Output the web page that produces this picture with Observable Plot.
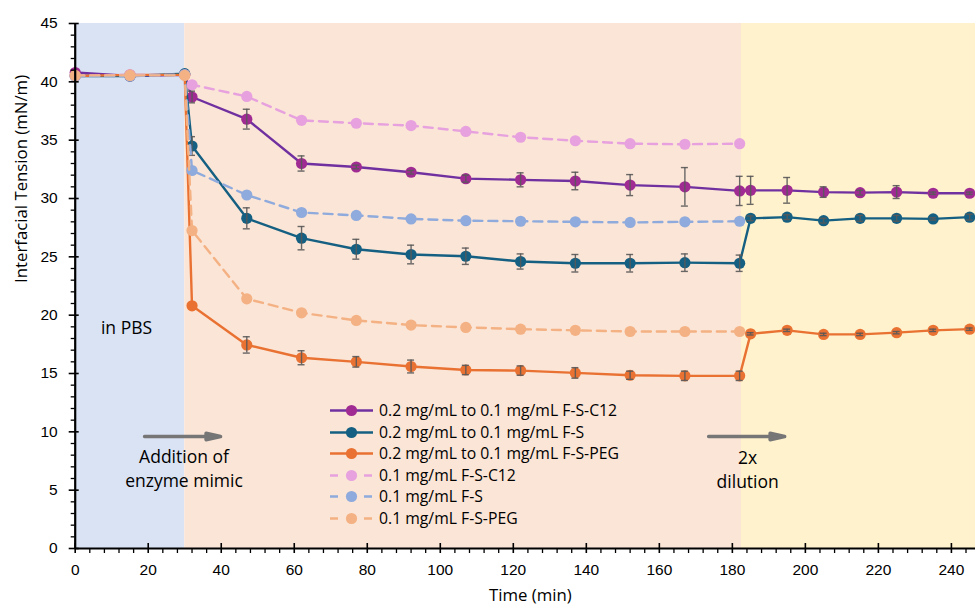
<!DOCTYPE html>
<html><head><meta charset="utf-8">
<script src="https://cdn.jsdelivr.net/npm/d3@7"></script>
<script src="https://cdn.jsdelivr.net/npm/@observablehq/plot@0.6"></script>
<style>
body{margin:0;background:#fff;}
#wrap{position:relative;width:975px;height:610px;}
#legend{position:absolute;left:330px;top:400px;font-family:"Open Sans",sans-serif;font-size:15.75px;color:#000;line-height:21.5px;}
.row{display:flex;align-items:center;height:21.5px;white-space:nowrap;}
.row svg{margin-right:6px;flex:none;}
</style></head><body><div id="wrap"><div id="chart"></div><div id="legend"></div></div>
<script>
// Time points (min)
const timeFull = [0,15,30,32,47,62,77,92,107,122,137,152,167,182,185,195,205,215,225,235,245];
const timeShort = [0,15,30,32,47,62,77,92,107,122,137,152,167,182];

// 0.2 mg/mL -> 0.1 mg/mL series (mean, error)
const c12Solid    = [40.8,40.5,40.6,38.7,36.8,33.0,32.7,32.25,31.7,31.6,31.5,31.15,31.0,30.65,30.7,30.7,30.55,30.5,30.55,30.45,30.45];
const c12SolidErr = [0,0,0,0.5,0.85,0.65,0.15,0.15,0.3,0.6,0.75,0.9,1.65,1.25,1.2,1.1,0.45,0.2,0.55,0.1,0.1];
const fsSolid     = [40.5,40.5,40.7,34.5,28.3,26.6,25.65,25.2,25.05,24.6,24.45,24.45,24.5,24.45,28.3,28.4,28.1,28.3,28.3,28.25,28.4];
const fsSolidErr  = [0,0,0,0.8,0.9,1.0,0.85,0.8,0.7,0.65,0.75,0.75,0.75,0.7,0.2,0.2,0.2,0.25,0.25,0.1,0.25];
const pegSolid    = [40.5,40.6,40.6,20.8,17.45,16.35,16.0,15.6,15.3,15.25,15.05,14.85,14.8,14.8,18.4,18.7,18.35,18.35,18.5,18.7,18.8];
const pegSolidErr = [0,0,0,0,0.7,0.6,0.45,0.55,0.4,0.4,0.45,0.35,0.4,0.4,0.1,0.1,0.1,0.1,0.1,0.1,0.1];

// 0.1 mg/mL series
const c12Dash = [40.5,40.6,40.6,39.75,38.75,36.7,36.45,36.25,35.75,35.25,34.95,34.7,34.65,34.7];
const fsDash  = [40.5,40.5,40.6,32.4,30.3,28.8,28.55,28.25,28.1,28.05,28.0,27.95,28.0,28.05];
const pegDash = [40.55,40.55,40.55,27.25,21.4,20.2,19.55,19.15,18.95,18.8,18.7,18.6,18.6,18.6];

const seriesNames = [
  "0.2 mg/mL to 0.1 mg/mL F-S-C12",
  "0.2 mg/mL to 0.1 mg/mL F-S",
  "0.2 mg/mL to 0.1 mg/mL F-S-PEG",
  "0.1 mg/mL F-S-C12",
  "0.1 mg/mL F-S",
  "0.1 mg/mL F-S-PEG"
];
const lineColors = ["#7030A0","#156082","#E97132","#E6A1DE","#8FAADC","#F4B183"];
const dotColors  = ["#A02B93","#156082","#E97132","#E6A1DE","#8FAADC","#F4B183"];
const dashed     = [false,false,false,true,true,true];

// Phase regions
const phaseStart = [0,30,182.5];
const phaseEnd   = [30,182.5,246.6];
const phaseFill  = ["#DAE3F3","#FBE5D6","#FFF2CC"];

const seriesVals = [c12Solid, fsSolid, pegSolid, c12Dash, fsDash, pegDash];
const seriesErr  = [c12SolidErr, fsSolidErr, pegSolidErr, null, null, null];
const seriesTime = [timeFull, timeFull, timeFull, timeShort, timeShort, timeShort];

const tables = seriesVals.map((vals, k) => vals.map((v, i) => ({
  series: seriesNames[k], t: seriesTime[k][i], v, e: seriesErr[k] ? seriesErr[k][i] : 0
})));
const regions = phaseStart.map((s, i) => ({x1: s, x2: phaseEnd[i], fill: phaseFill[i]}));

const gray = "#595959";
const seriesMarks = [];
tables.forEach((rows, k) => {
  seriesMarks.push(Plot.line(rows, {x: "t", y: "v", stroke: lineColors[k], strokeWidth: 2.4,
    strokeDasharray: dashed[k] ? "9,6" : null}));
  seriesMarks.push(Plot.dot(rows, {x: "t", y: "v", r: 5.6, fill: dotColors[k]}));
  const eb = rows.filter(d => d.e > 0);
  if (eb.length) {
    seriesMarks.push(Plot.ruleX(eb, {x: "t", y1: d => d.v - d.e, y2: d => d.v + d.e, stroke: gray, strokeWidth: 1.4, strokeOpacity: 0.9}));
    seriesMarks.push(Plot.ruleY(eb, {y: d => d.v + d.e, x1: "t", x2: "t", insetLeft: -3.5, insetRight: -3.5, stroke: gray, strokeWidth: 1.4, strokeOpacity: 0.9}));
    seriesMarks.push(Plot.ruleY(eb, {y: d => d.v - d.e, x1: "t", x2: "t", insetLeft: -3.5, insetRight: -3.5, stroke: gray, strokeWidth: 1.4, strokeOpacity: 0.9}));
  }
});

const arrowShape = {
  draw(context, l) {
    const hl = 14.5, hw = 3.2;
    context.moveTo(0, 0); context.lineTo(0, -(l - hl));
    context.moveTo(-hw, -(l - hl)); context.lineTo(0, -l); context.lineTo(hw, -(l - hl)); context.closePath();
  }
};
const arrowStart = [19, 173.5];
const arrowY = [9.6, 9.6];
const arrows = arrowStart.map((t, i) => ({t, y: arrowY[i]}));
const notes = [
  {t: 14.05, y: 19.05, text: "in PBS"},
  {t: 29.8, y: 6.95, text: "Addition of\nenzyme mimic"},
  {t: 184.2, y: 6.9, text: "2x\ndilution"}
];

const chart = Plot.plot({
  width: 975, height: 610,
  marginLeft: 74.7, marginRight: 0, marginTop: 23, marginBottom: 62,
  x: {domain: [0, 246.6], label: null},
  y: {domain: [0, 45], label: null},
  color: {type: "identity"},
  style: {fontFamily: "'Liberation Sans', Arial, sans-serif", fontSize: "15.5px", background: "white", color: "black"},
  marks: [
    Plot.rect(regions, {x1: "x1", x2: "x2", y1: 0, y2: 45, fill: "fill"}),
    ...seriesMarks,
    Plot.vector(arrows, {x: "t", y: "y", length: 76, rotate: 90, anchor: "start",
      shape: arrowShape, stroke: "#767676", fill: "#767676", strokeWidth: 3.5}),
    Plot.text(notes, {x: "t", y: "y", text: "text", fontFamily: "'Open Sans', sans-serif", fontSize: 17.5,
      lineHeight: 1.4, lineAnchor: "middle", fill: "black"}),
    // axes
    Plot.axisY(d3.range(0, 46, 5), {tickSize: 0, tickPadding: 17.5, label: null}),
    Plot.axisY(d3.range(0, 46, 5), {tickSize: 10, dx: 4, tickFormat: () => "", label: null, stroke: "black", strokeWidth: 1.6}),
    Plot.axisY(d3.range(0, 46, 1).filter(d => d % 5), {tickSize: 4, tickFormat: () => "", label: null, stroke: "black", strokeWidth: 1.3}),
    Plot.axisX(d3.range(0, 241, 20), {tickSize: 0, tickPadding: 15, label: null}),
    Plot.axisX(d3.range(0, 241, 20), {tickSize: 10, dy: -5, tickFormat: () => "", label: null, stroke: "black", strokeWidth: 1.6}),
    Plot.axisX(d3.range(0, 247, 4).filter(d => d % 20), {tickSize: 5, tickFormat: () => "", label: null, stroke: "black", strokeWidth: 1.3}),
    Plot.ruleX([0], {stroke: "black", strokeWidth: 2.2}),
    Plot.ruleY([0], {stroke: "black", strokeWidth: 2.2}),
    Plot.text(["Interfacial Tension (mN/m)"], {frameAnchor: "left", rotate: -90, dx: -54, dy: -3, fontFamily: "'Open Sans', sans-serif", fontSize: 16.8, fill: "black"}),
    Plot.text(["Time (min)"], {frameAnchor: "bottom", dy: 52, dx: 5, fontFamily: "'Open Sans', sans-serif", fontSize: 16.8, fill: "black"})
  ]
});
document.getElementById("chart").appendChild(chart);

// Legend
const legend = document.getElementById("legend");
seriesNames.forEach((name, k) => {
  const row = document.createElement("div");
  row.className = "row";
  const ns = "http://www.w3.org/2000/svg";
  const svg = document.createElementNS(ns, "svg");
  svg.setAttribute("width", 43); svg.setAttribute("height", 21);
  const line = document.createElementNS(ns, "line");
  line.setAttribute("x1", 0); line.setAttribute("x2", 43);
  line.setAttribute("y1", 10.5); line.setAttribute("y2", 10.5);
  line.setAttribute("stroke", lineColors[k]); line.setAttribute("stroke-width", 2.4);
  if (dashed[k]) line.setAttribute("stroke-dasharray", "8,26");
  svg.appendChild(line);
  const c = document.createElementNS(ns, "circle");
  c.setAttribute("cx", 21.5); c.setAttribute("cy", 10.5); c.setAttribute("r", 5.6);
  c.setAttribute("fill", dotColors[k]);
  svg.appendChild(c);
  row.appendChild(svg);
  const span = document.createElement("span");
  span.textContent = name;
  row.appendChild(span);
  legend.appendChild(row);
});
</script>
</body></html>
